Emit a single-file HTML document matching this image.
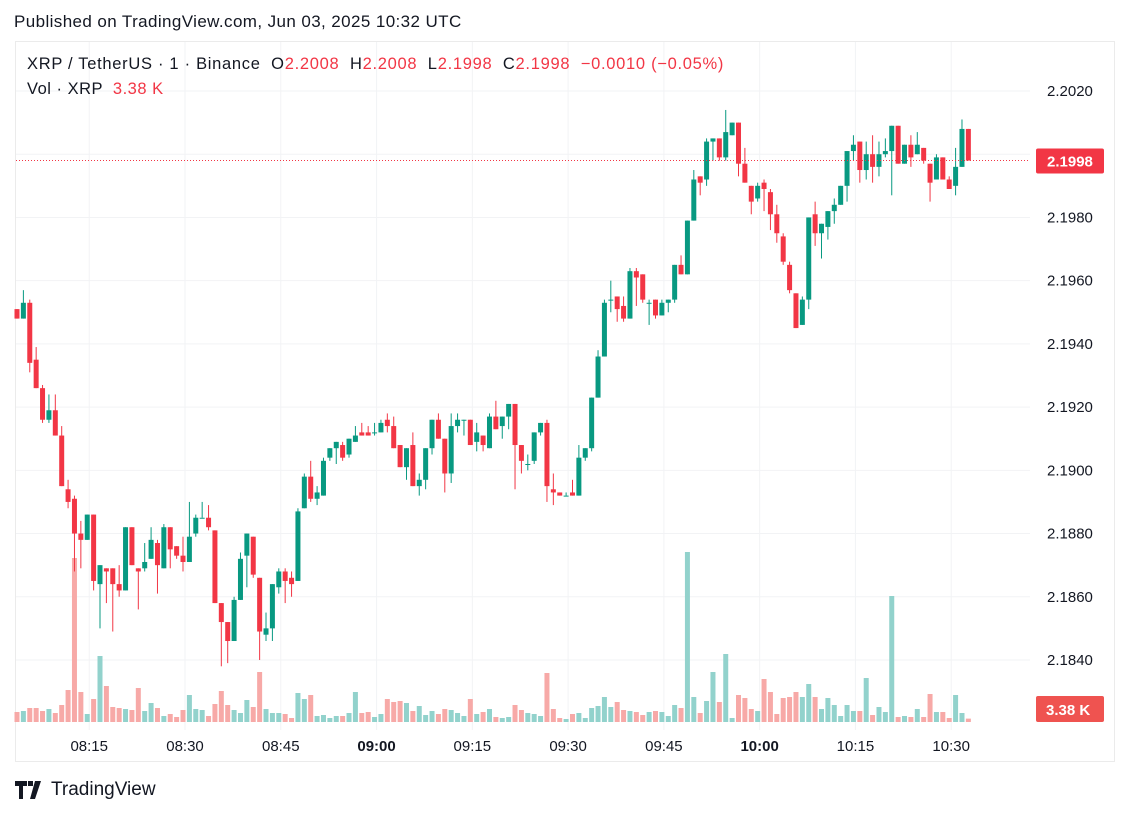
<!DOCTYPE html>
<html><head><meta charset="utf-8">
<style>
html,body{margin:0;padding:0;background:#fff;width:1131px;height:817px;overflow:hidden;font-family:"Liberation Sans","DejaVu Sans",sans-serif;color:#131722}
#pub{position:absolute;left:14px;top:12px;font-size:17px;letter-spacing:0.4px;color:#131722}
#frame{position:absolute;left:15px;top:41px;width:1100px;height:721px;border:1px solid #ebebeb;box-sizing:border-box}
#legend1{position:absolute;left:27px;top:55px;font-size:16.5px;letter-spacing:0.7px;white-space:pre}
#legend2{position:absolute;left:27px;top:80px;font-size:16.5px;letter-spacing:0.5px;white-space:pre}
.r{color:#f23645}
#logo{position:absolute;left:15px;top:779px;font-size:19px;display:flex;align-items:center;gap:6px}
svg{position:absolute;left:0;top:0}
</style></head><body>
<div id="pub">Published on TradingView.com, Jun 03, 2025 10:32 UTC</div>
<div id="frame"></div>
<svg id="chart" width="1131" height="817"></svg>
<div id="legend1">XRP / TetherUS · 1 · Binance  O<span class="r">2.2008</span>  H<span class="r">2.2008</span>  L<span class="r">2.1998</span>  C<span class="r">2.1998</span>  <span class="r">−0.0010 (−0.05%)</span></div>
<div id="legend2">Vol · XRP  <span class="r">3.38 K</span></div>
<div id="logo"><svg style="position:static" width="30" height="18" viewBox="0 0 30 18"><path d="M0 0h12v5H8v13H4V5H0z M13 0h5v5h-5z M20 0h6l-6 18h-5z" fill="#131722"/></svg><span>TradingView</span></div>
<script>
const opens=[2.1951,2.1948,2.1953,2.1935,2.1926,2.1916,2.1919,2.1911,2.1894,2.1891,2.1880,2.1878,2.1886,2.1864,2.1869,2.1869,2.1864,2.1862,2.1882,2.1869,2.1869,2.1872,2.1877,2.1869,2.1882,2.1876,2.1873,2.1871,2.1880,2.1885,2.1885,2.1881,2.1858,2.1852,2.1846,2.1859,2.1873,2.1879,2.1866,2.1848,2.1850,2.1863,2.1868,2.1866,2.1865,2.1888,2.1898,2.1891,2.1892,2.1904,2.1907,2.1908,2.1905,2.1909,2.1912,2.1912,2.1912,2.1912,2.1916,2.1914,2.1908,2.1901,2.1908,2.1895,2.1897,2.1907,2.1916,2.1910,2.1899,2.1914,2.1916,2.1916,2.1909,2.1911,2.1907,2.1917,2.1914,2.1917,2.1921,2.1908,2.1902,2.1903,2.1912,2.1915,2.1894,2.1893,2.1892,2.1893,2.1892,2.1904,2.1907,2.1923,2.1936,2.1954,2.1955,2.1952,2.1948,2.1963,2.1962,2.1953,2.1954,2.1949,2.1953,2.1954,2.1965,2.1962,2.1979,2.1993,2.1992,2.2004,2.2005,2.1999,2.2006,2.2010,2.1997,2.1990,2.1986,2.1991,2.1988,2.1981,2.1974,2.1965,2.1956,2.1946,2.1954,2.1981,2.1975,2.1977,2.1982,2.1984,2.1990,2.2001,2.2004,2.1995,2.2000,2.1996,2.2000,2.2001,2.2009,2.1997,2.2003,2.2000,2.2002,2.1997,2.1992,2.1999,2.1992,2.1990,2.1996,2.2008];
const highs=[2.1951,2.1957,2.1954,2.1939,2.1927,2.1924,2.1924,2.1914,2.1897,2.1892,2.1884,2.1886,2.1886,2.1870,2.1869,2.1869,2.1870,2.1882,2.1882,2.1869,2.1877,2.1882,2.1878,2.1883,2.1882,2.1876,2.1879,2.1890,2.1886,2.1890,2.1889,2.1881,2.1858,2.1852,2.1860,2.1874,2.1880,2.1879,2.1866,2.1855,2.1864,2.1869,2.1869,2.1868,2.1888,2.1899,2.1903,2.1895,2.1904,2.1907,2.1909,2.1909,2.1910,2.1914,2.1915,2.1914,2.1915,2.1916,2.1918,2.1917,2.1908,2.1907,2.1912,2.1899,2.1907,2.1916,2.1918,2.1910,2.1918,2.1918,2.1916,2.1916,2.1915,2.1911,2.1918,2.1922,2.1917,2.1921,2.1921,2.1908,2.1905,2.1912,2.1915,2.1916,2.1899,2.1893,2.1893,2.1897,2.1908,2.1907,2.1923,2.1938,2.1954,2.1960,2.1955,2.1955,2.1964,2.1964,2.1962,2.1954,2.1954,2.1954,2.1954,2.1965,2.1968,2.1979,2.1995,2.1993,2.2005,2.2005,2.2005,2.2014,2.2010,2.2010,2.2002,2.1990,2.1991,2.1992,2.1989,2.1984,2.1975,2.1966,2.1956,2.1955,2.1980,2.1985,2.1978,2.1982,2.1986,2.1990,2.2001,2.2006,2.2004,2.2004,2.2006,2.2004,2.2005,2.2009,2.2009,2.2003,2.2006,2.2007,2.2002,2.1997,2.2000,2.1999,2.1993,2.2002,2.2011,2.2008];
const lows=[2.1948,2.1948,2.1931,2.1926,2.1915,2.1915,2.1911,2.1895,2.1888,2.1868,2.1869,2.1878,2.1862,2.1850,2.1858,2.1849,2.1860,2.1862,2.1870,2.1856,2.1868,2.1872,2.1861,2.1869,2.1869,2.1872,2.1868,2.1871,2.1879,2.1885,2.1881,2.1858,2.1838,2.1839,2.1846,2.1859,2.1863,2.1866,2.1840,2.1846,2.1846,2.1861,2.1858,2.1860,2.1865,2.1888,2.1890,2.1889,2.1892,2.1903,2.1902,2.1903,2.1904,2.1909,2.1911,2.1911,2.1911,2.1912,2.1912,2.1907,2.1901,2.1897,2.1895,2.1892,2.1894,2.1905,2.1910,2.1893,2.1896,2.1912,2.1911,2.1908,2.1906,2.1906,2.1907,2.1913,2.1910,2.1913,2.1894,2.1899,2.1900,2.1902,2.1911,2.1890,2.1889,2.1892,2.1892,2.1892,2.1892,2.1903,2.1906,2.1923,2.1936,2.1950,2.1947,2.1947,2.1948,2.1952,2.1953,2.1946,2.1948,2.1949,2.1950,2.1953,2.1962,2.1962,2.1979,2.1987,2.1990,2.1998,2.1998,2.1998,2.2006,2.1993,2.1991,2.1981,2.1985,2.1982,2.1976,2.1972,2.1965,2.1956,2.1945,2.1946,2.1951,2.1971,2.1967,2.1973,2.1978,2.1984,2.1985,2.1998,2.1991,2.1992,2.1991,2.1993,2.1999,2.1987,2.1997,2.1997,2.1996,2.2000,2.1997,2.1985,2.1992,2.1992,2.1989,2.1987,2.1996,2.1998];
const closes=[2.1948,2.1953,2.1934,2.1926,2.1916,2.1919,2.1911,2.1895,2.1890,2.1880,2.1878,2.1886,2.1865,2.1870,2.1868,2.1864,2.1862,2.1882,2.1870,2.1868,2.1871,2.1878,2.1870,2.1882,2.1875,2.1873,2.1871,2.1879,2.1885,2.1885,2.1882,2.1858,2.1852,2.1846,2.1859,2.1872,2.1880,2.1867,2.1849,2.1850,2.1864,2.1868,2.1865,2.1864,2.1887,2.1898,2.1891,2.1893,2.1903,2.1907,2.1909,2.1904,2.1910,2.1911,2.1911,2.1911,2.1912,2.1915,2.1914,2.1907,2.1901,2.1907,2.1895,2.1897,2.1907,2.1916,2.1910,2.1899,2.1914,2.1916,2.1916,2.1908,2.1912,2.1908,2.1917,2.1913,2.1917,2.1921,2.1908,2.1903,2.1902,2.1912,2.1915,2.1895,2.1893,2.1892,2.1892,2.1892,2.1904,2.1907,2.1923,2.1936,2.1953,2.1954,2.1951,2.1948,2.1963,2.1961,2.1954,2.1953,2.1949,2.1953,2.1954,2.1965,2.1962,2.1979,2.1992,2.1991,2.2004,2.2005,2.1999,2.2007,2.2010,2.1997,2.1991,2.1985,2.1990,2.1989,2.1981,2.1975,2.1966,2.1957,2.1945,2.1954,2.1980,2.1975,2.1978,2.1982,2.1984,2.1990,2.2001,2.2003,2.1995,2.2000,2.1996,2.2000,2.2001,2.2009,2.1997,2.2003,2.1999,2.2003,2.1998,2.1991,2.1999,2.1992,2.1989,2.1996,2.2008,2.1998];
const volumes=[10,11,14,14,11,13,9,17,32,164,30,8,23,66,36,15,14,13,12,34,11,19,14,6,8,5,12,27,13,12,6,18,31,17,12,9,22,15,50,13,9,9,8,4,29,23,27,6,7,4,6,6,9,30,9,10,5,8,23,20,21,19,11,16,7,11,8,13,12,9,6,23,8,10,13,5,4,5,17,12,9,8,6,49,13,4,3,8,9,4,14,16,25,15,20,12,11,10,7,10,11,10,6,17,14,170,25,9,21,50,20,68,4,27,24,13,11,43,30,8,24,25,30,25,38,25,13,24,17,6,17,11,11,44,7,15,10,126,5,6,5,13,5,28,10,10,4,27,9,3.38];
const priceTicks=[2.2020,2.1980,2.1960,2.1940,2.1920,2.1900,2.1880,2.1860,2.1840];
const timeLabels=["08:15","08:30","08:45","09:00","09:15","09:30","09:45","10:00","10:15","10:30"];
const timeLabelIdx=[11,26,41,56,71,86,101,116,131,146];
const lastPrice="2.1998", lastVol="3.38 K";

const NS="http://www.w3.org/2000/svg";
const svg=document.getElementById('chart');
const X0=17, STEP=6.385;
function xAt(i){return X0+i*STEP;}
function yAt(p){return 91+(2.2020-p)/0.0001*3.161;}
const VBASE=722, VSCALE=1.0;
function vh(v){return v*VSCALE;}
function mk(tag,attrs){const e=document.createElementNS(NS,tag);for(const k in attrs)e.setAttribute(k,attrs[k]);svg.appendChild(e);return e;}

priceTicks.concat([2.2000]).forEach(p=>{
  const g=mk('line',{x1:16,x2:1030,y1:yAt(p),y2:yAt(p),stroke:'#f2f3f5','stroke-width':1});
  
  
});
timeLabelIdx.forEach(i=>{
  const g=mk('line',{x1:xAt(i)+2,x2:xAt(i)+2,y1:42,y2:730,stroke:'#f2f3f5','stroke-width':1});
  
  
});
volumes.forEach((v,i)=>{
  const up=closes[i]>=opens[i];
  const r=mk('rect',{x:xAt(i)-2.5,y:VBASE-vh(v),width:5,height:vh(v),fill:up?'#92d2cc':'#f7a9a7'});
  
  
});
opens.forEach((o,i)=>{
  const c=closes[i],up=c>=o,col=up?'#089981':'#f23645',x=xAt(i);
  const w=mk('line',{x1:x,x2:x,y1:yAt(highs[i]),y2:yAt(lows[i]),stroke:col,'stroke-width':1});
  
  
  const top=yAt(Math.max(o,c)),bot=yAt(Math.min(o,c));
  const b=mk('rect',{x:x-2.5,y:top,width:5,height:Math.max(1,bot-top),fill:col});
  
  
});
const lp=mk('line',{x1:16,x2:1030,y1:yAt(+lastPrice),y2:yAt(+lastPrice),stroke:'#f23645','stroke-width':1,'stroke-dasharray':'1 2'});


priceTicks.forEach(p=>{
  const t=mk('text',{x:1047,y:yAt(p)+5,'font-size':15,fill:'#131722','font-family':'Liberation Sans, sans-serif'});
  t.textContent=p.toFixed(4);
  
  
});
const lb=mk('rect',{x:1036,y:yAt(+lastPrice)-12,width:68,height:25,rx:2,fill:'#f23645'});


const lt=mk('text',{x:1047,y:yAt(+lastPrice)+6,'font-size':15,'font-weight':'bold',fill:'#fff','font-family':'Liberation Sans, sans-serif'});
lt.textContent=lastPrice;


const vb=mk('rect',{x:1036,y:696,width:68,height:26,rx:2,fill:'#ef5350'});


const vt=mk('text',{x:1046,y:715,'font-size':15,'font-weight':'bold',fill:'#fff','font-family':'Liberation Sans, sans-serif'});
vt.textContent=lastVol;


timeLabels.forEach((s,k)=>{
  const bold=(s==="09:00"||s==="10:00");
  const t=mk('text',{x:xAt(timeLabelIdx[k])+2,y:751,'font-size':15,'text-anchor':'middle',fill:'#131722','font-weight':bold?'bold':'normal','font-family':'Liberation Sans, sans-serif'});
  t.textContent=s;
  
  
});
</script>
</body></html>
